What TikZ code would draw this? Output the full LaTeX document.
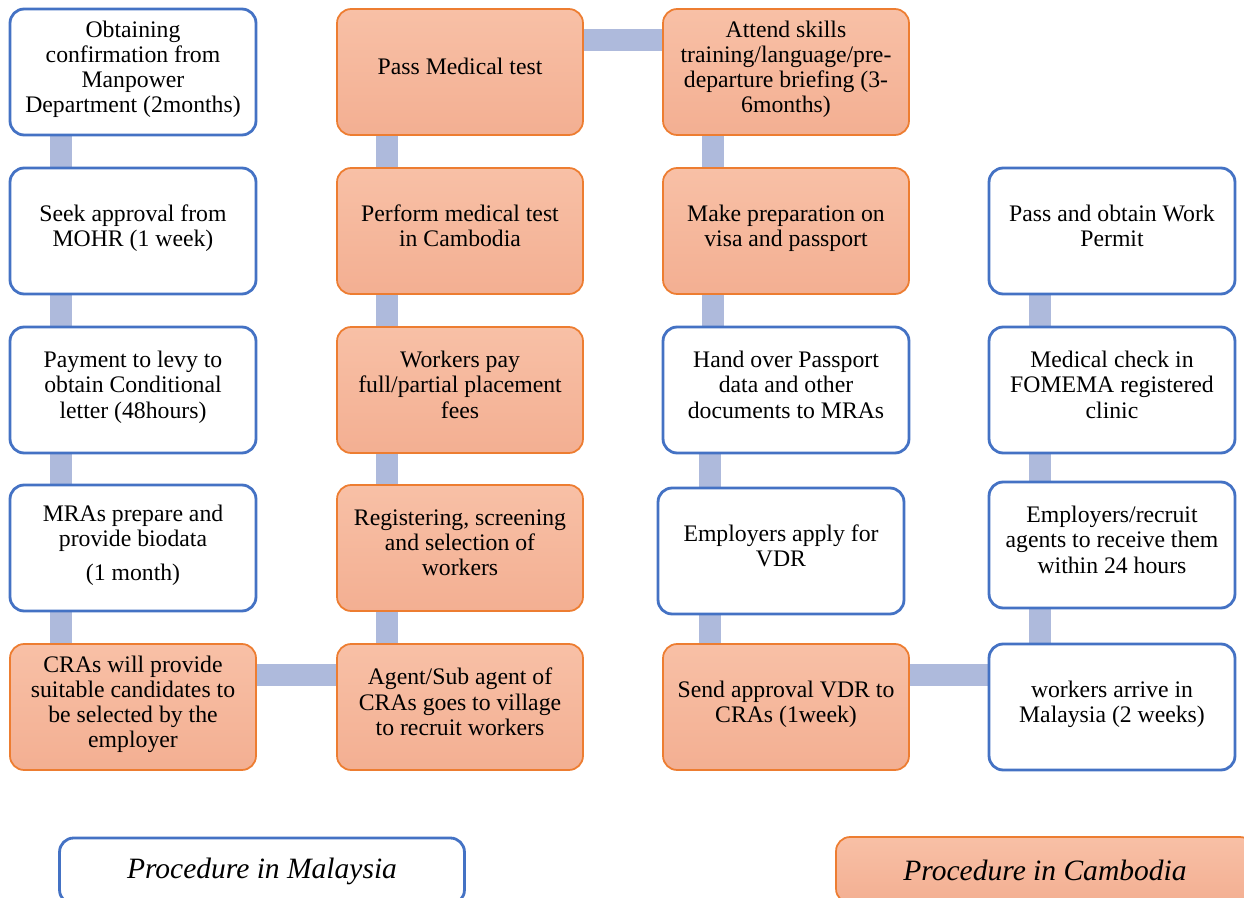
\documentclass[tikz,border=0pt]{standalone}
\usepackage{fontspec}
\setmainfont{Liberation Serif}
\usepackage{tikz}
\usetikzlibrary{backgrounds}
\definecolor{ColA}{RGB}{68,114,196}
\definecolor{ColB}{RGB}{237,125,49}
\definecolor{ColC}{RGB}{174,186,220}
\definecolor{ColTop}{RGB}{248,192,166}
\definecolor{ColBot}{RGB}{243,175,146}
\tikzstyle{BoxMy}=[draw=ColA,fill=white,line width=1.6pt,rounded corners=8pt,
minimum width=4.92cm,minimum height=2.52cm,align=center,inner sep=2pt,
text depth=6pt,font=\fontsize{13.5}{14.3}\selectfont]
\tikzstyle{BoxKh}=[BoxMy,draw=ColB,line width=1pt,top color=ColTop,bottom color=ColBot]
\tikzstyle{KeyBox}=[minimum width=8.1cm,minimum height=1.32cm,text depth=,
font=\fontsize{16.8}{18}\selectfont\itshape]
\tikzstyle{LinkBar}=[ColC,line width=12.5pt]

\begin{document}
\begin{tikzpicture}[x=0.02cm,y=-0.02cm]
        \useasboundingbox(0,0)rectangle(1244,898);
        % first column
        \node[BoxMy](m1)at(133,72){Obtaining\\confirmation from\\Manpower\\Department (2months)};
        \node[BoxMy](m2)at(133,231){Seek approval from\\MOHR (1 week)};
        \node[BoxMy](m3)at(133,390){Payment to levy to\\obtain Conditional\\letter (48hours)};
        \node[BoxMy](m4)at(133,548){MRAs prepare and\\provide biodata\\[5pt](1 month)};
        \node[BoxKh](k1)at(133,707){CRAs will provide\\suitable candidates to\\be selected by the\\employer};
        % second column
        \node[BoxKh](k2)at(460,707){Agent/Sub agent of\\CRAs goes to village\\to recruit workers};
        \node[BoxKh](k3)at(460,548){Registering, screening\\and selection of\\workers};
        \node[BoxKh](k4)at(460,390){Workers pay\\full/partial placement\\fees};
        \node[BoxKh](k5)at(460,231){Perform medical test\\in Cambodia};
        \node[BoxKh](k6)at(460,72){Pass Medical test};
        % third column
        \node[BoxKh](k7)at(786,72){Attend skills\\training/language/pre-\\departure briefing (3-\\6months)};
        \node[BoxKh](k8)at(786,231){Make preparation on\\visa and passport};
        \node[BoxMy](m5)at(786,390){Hand over Passport\\data and other\\documents to MRAs};
        \node[BoxMy](m6)at(781,551){Employers apply for\\VDR};
        \node[BoxKh](k9)at(786,707){Send approval VDR to\\CRAs (1week)};
        % fourth column
        \node[BoxMy](m7)at(1112,707){workers arrive in\\Malaysia (2 weeks)};
        \node[BoxMy](m8)at(1112,545){Employers/recruit\\agents to receive them\\within 24 hours};
        \node[BoxMy](m9)at(1112,390){Medical check in\\FOMEMA registered\\clinic};
        \node[BoxMy](m10)at(1112,231){Pass and obtain Work\\Permit};
        % key
        \node[BoxMy,KeyBox](lm)at(262,871){Procedure in Malaysia};
        \node[BoxKh,KeyBox,minimum width=8.36cm](lk)at(1045,870){Procedure in Cambodia};
        % bars behind the boxes
        \begin{scope}[on background layer]
        \draw[LinkBar]([xshift=1.04cm]m1.south west)--([xshift=1.04cm]m1.south west|-m2.north);
        \draw[LinkBar]([xshift=1.04cm]m2.south west)--([xshift=1.04cm]m2.south west|-m3.north);
        \draw[LinkBar]([xshift=1.04cm]m3.south west)--([xshift=1.04cm]m3.south west|-m4.north);
        \draw[LinkBar]([xshift=1.04cm]m4.south west)--([xshift=1.04cm]m4.south west|-k1.north);
        \draw[LinkBar]([yshift=-0.64cm]k1.north east)--([yshift=-0.64cm]k1.north east-|k2.west);
        \draw[LinkBar]([xshift=1.02cm]k2.north west)--([xshift=1.02cm]k2.north west|-k3.south);
        \draw[LinkBar]([xshift=1.02cm]k3.north west)--([xshift=1.02cm]k3.north west|-k4.south);
        \draw[LinkBar]([xshift=1.02cm]k4.north west)--([xshift=1.02cm]k4.north west|-k5.south);
        \draw[LinkBar]([xshift=1.02cm]k5.north west)--([xshift=1.02cm]k5.north west|-k6.south);
        \draw[LinkBar]([yshift=-0.64cm]k6.north east)--([yshift=-0.64cm]k6.north east-|k7.west);
        \draw[LinkBar]([xshift=1.02cm]k7.south west)--([xshift=1.02cm]k7.south west|-k8.north);
        \draw[LinkBar]([xshift=1.02cm]k8.south west)--([xshift=1.02cm]k8.south west|-m5.north);
        \draw[LinkBar]([xshift=1.06cm]m6.north west)--([xshift=1.06cm]m6.north west|-m5.south);
        \draw[LinkBar]([xshift=1.06cm]m6.south west)--([xshift=1.06cm]m6.south west|-k9.north);
        \draw[LinkBar]([yshift=-0.64cm]k9.north east)--([yshift=-0.64cm]k9.north east-|m7.west);
        \draw[LinkBar]([xshift=1.04cm]m7.north west)--([xshift=1.04cm]m7.north west|-m8.south);
        \draw[LinkBar]([xshift=1.04cm]m8.north west)--([xshift=1.04cm]m8.north west|-m9.south);
        \draw[LinkBar]([xshift=1.04cm]m9.north west)--([xshift=1.04cm]m9.north west|-m10.south);
        \end{scope}
    \end{tikzpicture}
\end{document}
